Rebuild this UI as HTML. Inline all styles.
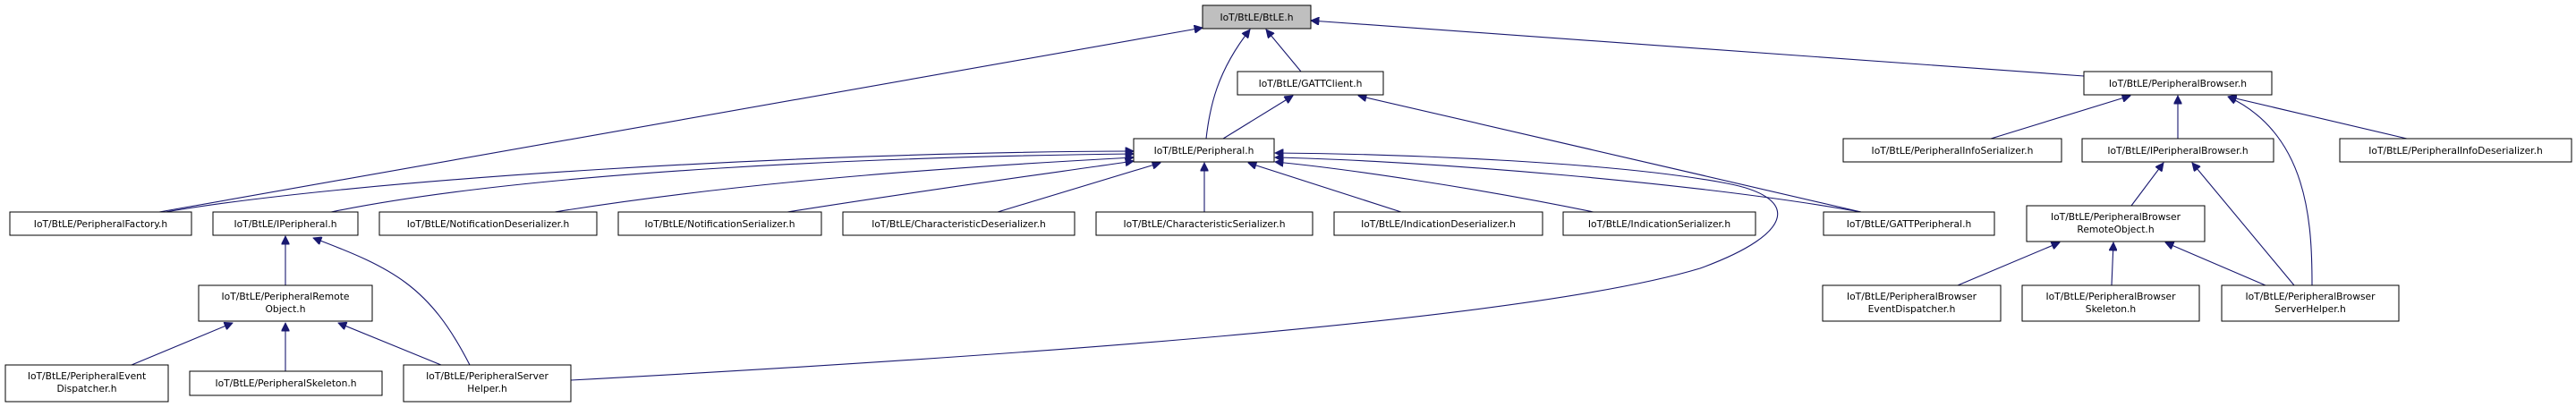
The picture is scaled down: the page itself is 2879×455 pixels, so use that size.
<!DOCTYPE html>
<html><head><meta charset="utf-8"><style>
html,body{margin:0;padding:0;background:#fff;}
svg{display:block;}
text{font-family:"DejaVu Sans","Liberation Sans",sans-serif;font-size:10.7px;fill:#000;text-anchor:middle;}
.b{fill:#fff;stroke:#000;stroke-width:1;}
.e{fill:none;stroke:#191970;stroke-width:1.1;}
</style></head><body>
<svg width="2879" height="455" viewBox="0 0 2879 455" xmlns="http://www.w3.org/2000/svg">
<defs>
<marker id="a" viewBox="0 0 10 10" refX="10" refY="5" markerWidth="10" markerHeight="9" markerUnits="userSpaceOnUse" orient="auto">
<path d="M0,0 L10,5 L0,10 z" fill="#191970" stroke="#191970"/>
</marker>
</defs>
<g class="e" marker-end="url(#a)">
<!-- to BtLE -->
<path d="M178,237 L1344,31"/>
<path d="M1348,155 C1352,120 1360,80 1397,33"/>
<path d="M1454,80 L1415,33"/>
<path d="M2329,85 L1465,23"/>
<!-- to GATTClient -->
<path d="M1367,155 L1445,107"/>
<path d="M2080,237 L1518,107"/>
<!-- to Peripheral -->
<path d="M185,237 C400,200 900,170 1267,169"/>
<path d="M370,237 C600,190 1000,175 1267,172"/>
<path d="M620,237 C850,200 1100,185 1267,176"/>
<path d="M880,237 C1050,210 1200,190 1267,180"/>
<path d="M1115,237 L1297,182"/>
<path d="M1346,237 L1346,182"/>
<path d="M1566,237 L1395,182"/>
<path d="M1781,237 C1650,210 1500,188 1425,181"/>
<path d="M2080,237 C1900,205 1600,180 1425,176"/>
<path d="M638,425 C1100,400 1700,360 1900,300 C2010,260 2010,220 1930,205 C1800,180 1550,172 1425,171"/>
<!-- to IPeripheral -->
<path d="M319,319 L319,264"/>
<path d="M525,408 C480,320 440,300 350,266"/>
<!-- to PeripheralRemoteObject -->
<path d="M147,408 L260,361"/>
<path d="M319,415 L319,361"/>
<path d="M493,408 L378,361"/>
<!-- to PeripheralBrowser -->
<path d="M2225,155 L2381,107"/>
<path d="M2434,155 L2434,107"/>
<path d="M2690,155 L2490,108"/>
<path d="M2584,319 C2584,250 2580,150 2490,108"/>
<!-- to IPeripheralBrowser -->
<path d="M2382,230 L2418,182"/>
<path d="M2564,319 L2450,182"/>
<!-- to PBRemoteObject -->
<path d="M2188,319 L2302,271"/>
<path d="M2360,319 L2362,271"/>
<path d="M2532,319 L2420,271"/>
</g>

<rect x="1344" y="6" width="121" height="26" fill="#bfbfbf" stroke="#000"/>
<text x="1404.5" y="23">IoT/BtLE/BtLE.h</text>

<rect class="b" x="1383" y="80" width="163" height="26"/><text x="1464.5" y="97">IoT/BtLE/GATTClient.h</text>
<rect class="b" x="2329" y="80" width="210" height="26"/><text x="2434" y="97">IoT/BtLE/PeripheralBrowser.h</text>

<rect class="b" x="1267" y="155" width="157" height="26"/><text x="1345.5" y="172">IoT/BtLE/Peripheral.h</text>
<rect class="b" x="2060" y="155" width="244" height="26"/><text x="2182" y="172">IoT/BtLE/PeripheralInfoSerializer.h</text>
<rect class="b" x="2327" y="155" width="214" height="26"/><text x="2434" y="172">IoT/BtLE/IPeripheralBrowser.h</text>
<rect class="b" x="2615" y="155" width="259" height="26"/><text x="2744.5" y="172">IoT/BtLE/PeripheralInfoDeserializer.h</text>

<rect class="b" x="11" y="237" width="203" height="26"/><text x="112.5" y="254">IoT/BtLE/PeripheralFactory.h</text>
<rect class="b" x="238" y="237" width="162" height="26"/><text x="319" y="254">IoT/BtLE/IPeripheral.h</text>
<rect class="b" x="424" y="237" width="243" height="26"/><text x="545.5" y="254">IoT/BtLE/NotificationDeserializer.h</text>
<rect class="b" x="691" y="237" width="227" height="26"/><text x="804.5" y="254">IoT/BtLE/NotificationSerializer.h</text>
<rect class="b" x="942" y="237" width="259" height="26"/><text x="1071.5" y="254">IoT/BtLE/CharacteristicDeserializer.h</text>
<rect class="b" x="1225" y="237" width="242" height="26"/><text x="1346" y="254">IoT/BtLE/CharacteristicSerializer.h</text>
<rect class="b" x="1491" y="237" width="233" height="26"/><text x="1607.5" y="254">IoT/BtLE/IndicationDeserializer.h</text>
<rect class="b" x="1747" y="237" width="215" height="26"/><text x="1854.5" y="254">IoT/BtLE/IndicationSerializer.h</text>
<rect class="b" x="2038" y="237" width="191" height="26"/><text x="2133.5" y="254">IoT/BtLE/GATTPeripheral.h</text>

<rect class="b" x="2265" y="230" width="199" height="40"/><text x="2364.5" y="246">IoT/BtLE/PeripheralBrowser</text><text x="2364.5" y="260">RemoteObject.h</text>

<rect class="b" x="222" y="319" width="194" height="40"/><text x="319" y="335">IoT/BtLE/PeripheralRemote</text><text x="319" y="349">Object.h</text>
<rect class="b" x="2037" y="319" width="199" height="40"/><text x="2136.5" y="335">IoT/BtLE/PeripheralBrowser</text><text x="2136.5" y="349">EventDispatcher.h</text>
<rect class="b" x="2260" y="319" width="198" height="40"/><text x="2359" y="335">IoT/BtLE/PeripheralBrowser</text><text x="2359" y="349">Skeleton.h</text>
<rect class="b" x="2483" y="319" width="198" height="40"/><text x="2582" y="335">IoT/BtLE/PeripheralBrowser</text><text x="2582" y="349">ServerHelper.h</text>

<rect class="b" x="6" y="408" width="182" height="41"/><text x="97" y="424">IoT/BtLE/PeripheralEvent</text><text x="97" y="438">Dispatcher.h</text>
<rect class="b" x="212" y="415" width="215" height="27"/><text x="319.5" y="432">IoT/BtLE/PeripheralSkeleton.h</text>
<rect class="b" x="451" y="408" width="187" height="41"/><text x="544.5" y="424">IoT/BtLE/PeripheralServer</text><text x="544.5" y="438">Helper.h</text>
</svg>
</body></html>
